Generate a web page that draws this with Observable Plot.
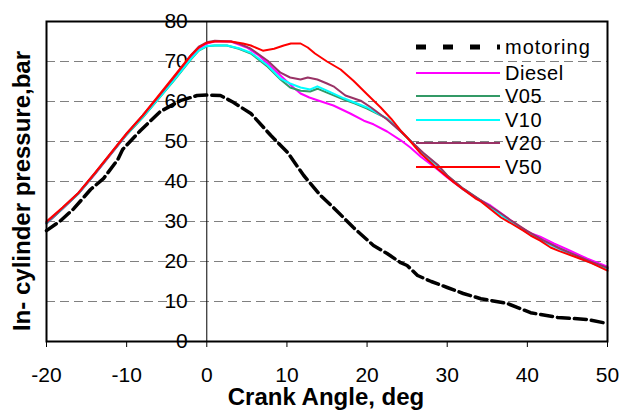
<!DOCTYPE html>
<html>
<head>
<meta charset="utf-8">
<script src="https://cdn.jsdelivr.net/npm/d3@7"></script>
<script src="https://cdn.jsdelivr.net/npm/@observablehq/plot@0.6"></script>
<style>
  html, body { margin: 0; padding: 0; background: #fff; }
  #chart { position: relative; width: 620px; height: 411px; }
  svg { font-family: "Liberation Sans", Arial, sans-serif; }
</style>
</head>
<body>
<div id="chart"></div>
<script>
// ---- data (crank angle in deg, pressure in bar) ----
const seriesNames = ["motoring", "Diesel", "V05", "V10", "V20", "V50"];
const seriesColors = ["#000000", "#FF00FF", "#339966", "#00FFFF", "#993366", "#FF0000"];
const xTicks = [-20, -10, 0, 10, 20, 30, 40, 50];
const yTicks = [0, 10, 20, 30, 40, 50, 60, 70, 80];
const gridTicks = [10, 20, 30, 40, 50, 60, 70];
const xTitle = "Crank Angle, deg";
const yTitle = "In- cylinder pressure,bar";

const motoring = [[-20,27.7],[-18.25,30.2],[-16.6,33.2],[-14.5,38],[-12.9,40.7],[-11.1,45.5],[-10.5,48],[-8.3,52.7],[-5.8,57.5],[-3.3,60.2],[-1.2,61.5],[0,61.6],[1.7,61.5],[3.3,59.8],[5.5,57],[8,51.5],[10.1,47.2],[12.1,41.5],[14.2,36.5],[15.8,33.5],[18.3,28.5],[20.8,24],[22.5,22],[24.2,19.7],[25,19],[26.3,16.5],[28,15],[30,13.5],[32,12],[34.2,10.7],[37.5,9.5],[40.4,7.2],[43.8,6],[47.5,5.5],[50,4.5]];

const diesel = [[-20,29.5],[-18,33.2],[-16,37],[-14,41.7],[-12,46.7],[-10,51.7],[-8,56.2],[-6,61],[-4,66],[-2,71.2],[-1,73.2],[0,74.5],[1,75],[3,75],[5,73.5],[6.5,71.5],[7.6,69.5],[9.2,66.5],[10,65],[10.8,63.5],[11.7,62],[12.8,61],[14,60.2],[15.8,59],[17.9,57],[19.6,55.2],[20.8,54.3],[22.5,52.5],[24.2,50.3],[25.4,48.5],[26.7,46.2],[28.8,43],[30,41],[32,38],[33.5,36],[35.4,34],[37,31.7],[39.1,28.5],[40.5,27],[41.6,26.2],[43.3,24.5],[45,23],[46.6,21.5],[47.5,20.7],[50,18.7]];

const v05 = [[-20,29.5],[-18,33.2],[-16,37],[-14,41.8],[-12,46.8],[-10,51.7],[-8,56],[-6,60.7],[-4,65.5],[-2,70.5],[-1,72.7],[0,73.8],[1,74],[2.5,74],[4,73.2],[5.5,72],[7.6,68.7],[9.2,65.5],[10.4,63.5],[11.7,62.7],[12.9,62.5],[13.8,63.2],[15,62.2],[17.1,60.5],[18.5,59.5],[20,58.2],[22.5,55.7],[24.2,52.5],[25.5,50],[27,47],[28.8,44],[30,41.5],[32,38.2],[34.2,35.3],[36,32.8],[38,30],[40,27.4],[42,25.2],[43.5,23.8],[46,21.5],[48,19.8],[50,18.3]];

const v10 = [[-20,29.6],[-18,33.3],[-16,37.1],[-14,41.9],[-12,46.9],[-10,51.8],[-8,56.1],[-6,60.8],[-4,65.6],[-2,70.6],[-1,72.8],[0,73.9],[1,74],[2.5,74],[4,73.3],[5.5,72.2],[7.6,69],[9.2,65.7],[10.4,64.5],[11.7,63.5],[12.9,63],[13.8,63.8],[15,62.7],[17.1,60.8],[18.5,59.7],[20,58.5],[22.5,55.7],[24.2,52.7],[25.5,50],[27,47],[28.8,44],[30,41.3],[32,38],[34.2,35.1],[36,32.6],[38,29.8],[40,27.2],[42,25],[43.5,23.6],[46,21.3],[48,19.6],[50,18.1]];

const v20 = [[-20,29.7],[-18,33.4],[-16,37.2],[-14,42],[-12,47],[-10,52],[-8,56.5],[-6,61.3],[-4,66.3],[-2,71.5],[-1,73.7],[0,74.8],[1,75.2],[3,75],[4,74.5],[5.5,73.2],[7.6,70.2],[9.2,67.2],[10.4,66],[11.7,65.5],[12.6,66],[13.8,65.5],[15,64.5],[15.8,63.8],[17.3,61.5],[19.2,60.2],[20.5,58.5],[22.5,55.5],[24.2,52.5],[25.4,50.2],[27,47.2],[28.8,44.2],[30,41.5],[32,38.2],[34,35.5],[36,33],[38,30.2],[40,27.6],[42,25.3],[44,23.3],[46,21.6],[48,19.9],[50,18.4]];

const v50 = [[-20,30],[-18,33.5],[-16,37.2],[-14,42],[-12,47],[-10,52],[-8,56.5],[-6,61.5],[-4,66.5],[-2,71.5],[-1,73.5],[0,74.7],[1,75],[3,75],[4.5,74.5],[5.5,74],[7,72.7],[8.4,73.2],[9.6,74],[10.5,74.5],[11.7,74.5],[12.6,73.5],[13.5,72],[15,70],[16.7,68],[18.3,65.2],[20,61.8],[21.7,58.5],[23,55.7],[24.2,52.7],[25,51],[26.7,47],[28.8,43.2],[30.8,39.8],[32,38],[33.5,35.8],[34.2,35],[36.7,31],[38,29.5],[39.5,27.7],[40.4,26.5],[41.6,25.2],[42.9,23.5],[44,22.6],[46.6,20.7],[48,19.6],[50,17.7]];

const seriesData = [motoring, diesel, v05, v10, v20, v50];

const FONT = "'Liberation Sans', Arial, sans-serif";

const colored = [1, 2, 3, 4, 5].map(i =>
  Plot.line(seriesData[i], {x: d => d[0], y: d => d[1], stroke: seriesColors[i], strokeWidth: 2, curve: "linear"})
);

const plot = Plot.plot({
  width: 620,
  height: 411,
  marginLeft: 46,
  marginRight: 13,
  marginTop: 21,
  marginBottom: 70,
  style: {fontFamily: FONT, background: "#fff", overflow: "visible"},
  x: {domain: [-20, 50]},
  y: {domain: [0, 80]},
  marks: [
    Plot.ruleY(gridTicks, {stroke: "#808080", strokeWidth: 1, strokeDasharray: "9,5"}),
    Plot.ruleX([0], {stroke: "#000", strokeWidth: 1}),
    Plot.text(yTicks, {x: 0, y: d => d, text: d => String(d), textAnchor: "end", dx: -19, fontSize: 21, fill: "#000"}),
    Plot.axisX({ticks: xTicks, tickSize: 6, tickPadding: 20, fontSize: 21, label: null, stroke: "#000", fill: "#000", tickFormat: d => String(d)}),
    Plot.axisY({ticks: [], label: null}),
    Plot.line(motoring, {x: d => d[0], y: d => d[1], stroke: "#000", strokeWidth: 3.5, strokeDasharray: "12,5"}),
    ...colored,
    Plot.frame({stroke: "#000", strokeWidth: 2})
  ]
});

document.getElementById("chart").appendChild(plot);

const svg = d3.select(plot);

// ---- axis titles ----
svg.append("text")
  .attr("x", 326).attr("y", 405)
  .attr("text-anchor", "middle")
  .attr("font-family", FONT).attr("font-size", 24).attr("font-weight", "bold")
  .attr("fill", "#000")
  .text(xTitle);
svg.append("text")
  .attr("transform", "translate(30,191) rotate(-90)")
  .attr("text-anchor", "middle")
  .attr("font-family", FONT).attr("font-size", 24).attr("font-weight", "bold")
  .attr("fill", "#000")
  .text(yTitle);

// ---- legend overlay (inside plot, top right) ----
const leg = svg.append("g").attr("font-family", FONT).attr("font-size", 20).attr("text-anchor", "start");
const rowY = [47, 73, 96, 120, 143, 167];
seriesNames.forEach((name, i) => {
  const y = rowY[i];
  leg.append("line")
    .attr("x1", 416).attr("x2", 500).attr("y1", y).attr("y2", y)
    .attr("stroke", seriesColors[i])
    .attr("stroke-width", i === 0 ? 5 : 2)
    .attr("stroke-dasharray", i === 0 ? "10,17" : null);
  leg.append("text")
    .attr("x", 505).attr("y", y).attr("dy", "0.36em")
    .attr("letter-spacing", i === 0 ? 1 : 0.5)
    .attr("fill", "#000")
    .text(name);
});
</script>
</body>
</html>
